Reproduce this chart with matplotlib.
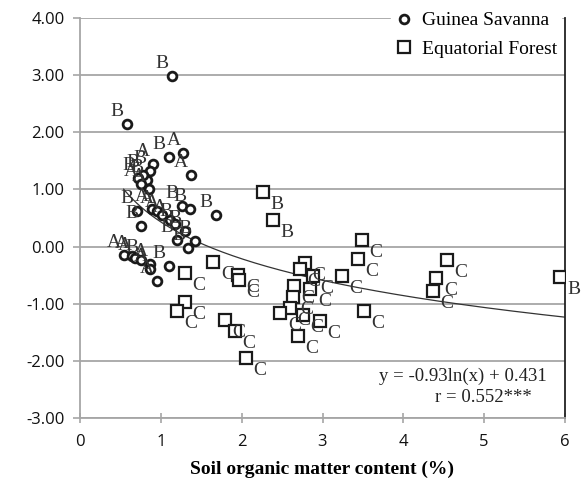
import numpy as np
import matplotlib
matplotlib.use("Agg")
import matplotlib.pyplot as plt
from matplotlib.lines import Line2D

# Guinea Savanna (circles)
gs_x = [1.14, 0.58, 1.10, 1.28, 1.37, 0.90, 0.86, 0.83, 0.78, 0.72, 0.75, 0.85,
        0.70, 0.76, 0.89, 0.95, 1.01, 1.11, 1.18, 1.20, 1.30, 1.34, 1.42, 1.26,
        1.36, 1.68, 0.54, 0.64, 0.68, 0.76, 0.87, 0.87, 0.95, 1.10]
gs_y = [2.98, 2.14, 1.56, 1.63, 1.26, 1.44, 1.32, 1.17, 1.25, 1.20, 1.10, 1.00,
        0.62, 0.36, 0.65, 0.62, 0.56, 0.47, 0.39, 0.12, 0.27, -0.02, 0.09, 0.71,
        0.65, 0.55, -0.14, -0.17, -0.20, -0.23, -0.31, -0.40, -0.61, -0.34]
gs_lab = ["B", "B", "B", "A", "A", "A", "B", "B", "B", "B", "A", "A",
          "B", "B", "A", "A", "A", "A", "B", "B", "B", "B", "B", "B",
          "B", "B", "A", "A", "A", "B", "A", "A", "A", "B"]

# Equatorial Forest (squares)
ef_x = [2.26, 2.39, 1.65, 1.30, 1.96, 1.97, 1.30, 1.20, 1.79, 1.92, 2.05,
        3.49, 3.44, 2.78, 2.72, 2.88, 3.24, 2.65, 2.85, 2.63, 2.60, 2.48,
        2.76, 2.97, 2.70, 3.51, 4.54, 4.41, 4.37, 5.94]
ef_y = [0.96, 0.47, -0.27, -0.47, -0.49, -0.58, -0.97, -1.13, -1.28, -1.48, -1.95,
        0.11, -0.21, -0.29, -0.39, -0.51, -0.52, -0.69, -0.75, -0.89, -1.07, -1.17,
        -1.19, -1.30, -1.56, -1.13, -0.23, -0.55, -0.78, -0.54]
ef_lab = ["B", "B", "C", "C", "C", "C", "C", "C", "C", "C", "C",
          "C", "C", "C", "C", "C", "C", "C", "C", "C", "C", "C",
          "C", "C", "C", "C", "C", "C", "C", "B"]

# regression y = a ln(x) + b
reg_a = -0.93
reg_b = 0.431
reg_xrange = [0.54, 6.0]
eq_text = "y = -0.93ln(x) + 0.431"
r_text = "r = 0.552***"

xticks = [0, 1, 2, 3, 4, 5, 6]
yticks = [-3, -2, -1, 0, 1, 2, 3, 4]

serif = ["Liberation Serif", "DejaVu Serif"]
sans = ["Open Sans", "DejaVu Sans"]

fig = plt.figure(figsize=(5.81, 4.87), dpi=100)
ax = fig.add_axes([80 / 581, 1 - 418 / 487, 485 / 581, 400 / 487])
ax.set_xlim(0, 6)
ax.set_ylim(-3, 4)

grid_c = "#a6a6a6"
for yv in yticks:
    ax.axhline(yv, color=grid_c, lw=1.3, zorder=1)

# trend line
xs = np.linspace(reg_xrange[0], reg_xrange[1], 300)
ax.plot(xs, reg_a * np.log(xs) + reg_b, color="#333333", lw=0.9, zorder=2)

ax.plot(gs_x, gs_y, "o", ms=6.3, mfc="white", mec="#1a1a1a", mew=2.0,
        ls="none", zorder=4)
ax.plot(ef_x, ef_y, "s", ms=8.8, mfc="white", mec="#1a1a1a", mew=1.6,
        ls="none", zorder=3)

for x, y, t in zip(gs_x, gs_y, gs_lab):
    ax.annotate(t, (x, y), xytext=(-7, 9), textcoords="offset points",
                ha="center", va="center", fontsize=14, family=serif,
                color="#333333", zorder=5)
for x, y, t in zip(ef_x, ef_y, ef_lab):
    ax.annotate(t, (x, y), xytext=(10, -9), textcoords="offset points",
                ha="center", va="center", fontsize=14, family=serif,
                color="#333333", zorder=5)

ax.text(5.77, -2.27, eq_text, ha="right", va="center", fontsize=13.5,
        family=serif, color="#222222", zorder=6)
ax.text(5.59, -2.64, r_text, ha="right", va="center", fontsize=13.5,
        family=serif, color="#222222", zorder=6)

# spines
ax.spines["top"].set_visible(False)
ax.spines["left"].set_color(grid_c)
ax.spines["bottom"].set_color(grid_c)
ax.spines["right"].set_color("#222222")
for s in ["left", "bottom", "right"]:
    ax.spines[s].set_linewidth(1.3)

ax.set_xticks(xticks)
ax.set_xticklabels([str(v) for v in xticks])
ax.set_yticks(yticks)
ax.set_yticklabels([f"{v:.2f}" for v in yticks])
ax.tick_params(axis="x", direction="inout", length=7, width=1.2, color=grid_c,
               labelsize=12, pad=8)
ax.tick_params(axis="y", direction="out", length=5, width=1.2, color=grid_c,
               labelsize=12, pad=6)
for lab in ax.get_xticklabels() + ax.get_yticklabels():
    lab.set_family(sans)
    lab.set_color("#111111")

ax.set_xlabel("Soil organic matter content (%)", fontsize=14, fontweight="bold",
              family=serif, labelpad=8)

handles = [Line2D([], [], marker="o", ls="none", ms=6.3, mfc="white",
                  mec="#1a1a1a", mew=2.0),
           Line2D([], [], marker="s", ls="none", ms=8.8, mfc="white",
                  mec="#1a1a1a", mew=1.6)]
leg = ax.legend(handles, ["Guinea Savanna", "Equatorial Forest"],
                loc="upper right", bbox_to_anchor=(1.0, 1.035),
                prop={"family": serif, "size": 14}, frameon=True,
                facecolor="white", edgecolor="white", framealpha=1,
                handletextpad=0.4, labelspacing=0.55, borderpad=0.2,
                handlelength=1.0, borderaxespad=0.2)
leg.set_zorder(10)

fig.savefig("out.png", dpi=100)
